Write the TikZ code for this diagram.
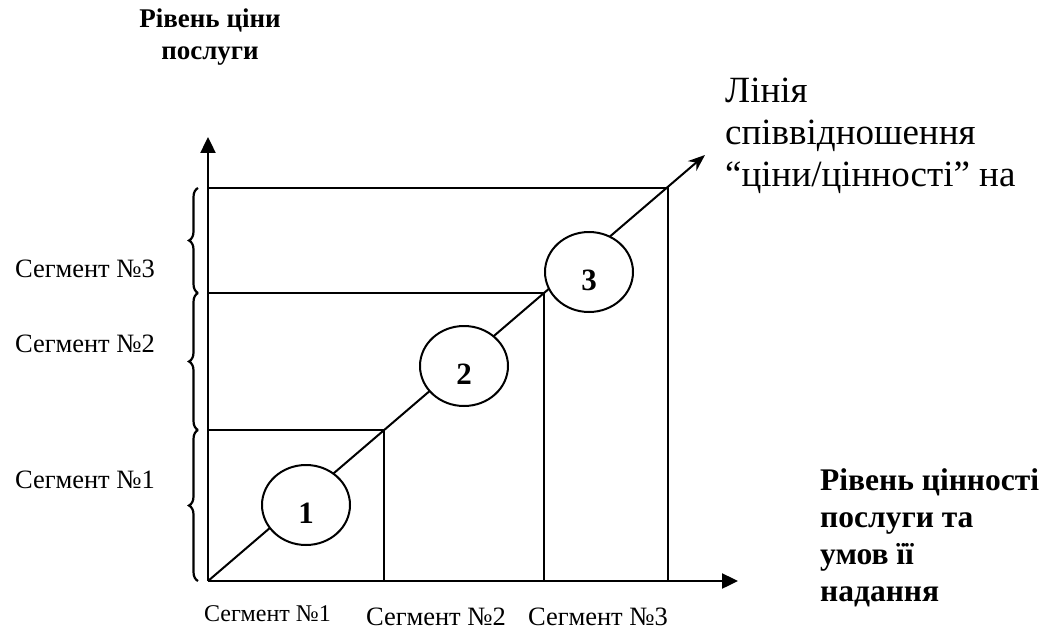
\documentclass[tikz,border=0pt]{standalone}
\usepackage{fontspec}
\setmainfont{Liberation Serif}
\usetikzlibrary{arrows.meta,shapes.geometric,decorations.pathreplacing}
\begin{document}
\begin{tikzpicture}[x=1pt,y=-1pt,
  axis/.style={line width=2.4pt,-{Triangle[length=16pt,width=15pt]}},
  gridline/.style={line width=2pt},
  bracestyle/.style={line width=2.2pt,decorate,decoration={brace,amplitude=9pt}},
  seg/.style={ellipse,draw,line width=2pt,fill=white,minimum width=88pt,minimum height=80pt,inner sep=0pt},
  num/.style={font=\fontsize{31}{36}\selectfont\bfseries,inner sep=0pt},
  lbl/.style={font=\fontsize{26.5}{31}\selectfont,inner sep=0pt,anchor=base west},
  blbl/.style={font=\fontsize{24}{28}\selectfont,inner sep=0pt,anchor=base west},
]
\useasboundingbox (0,0) rectangle (1056,631);
\coordinate (O) at (208,581);
\coordinate (Ytip) at (208,137);
\coordinate (Xtip) at (738,581);
\coordinate (Dtip) at (705,155);
\coordinate (h1) at (208,430);
\coordinate (h2) at (208,293);
\coordinate (h3) at (208,188);
\coordinate (c1) at (384,430);
\coordinate (c2) at (544,293);
\coordinate (c3) at (668,188);
\coordinate (b1) at (384,581);
\coordinate (b2) at (544,581);
\coordinate (b3) at (668,581);
% grid
\draw[gridline] (h1) -- (c1) -- (b1);
\draw[gridline] (h2) -- (c2) -- (b2);
\draw[gridline] (h3) -- (c3) -- (b3);
% axes
\draw[axis] (O) -- (Ytip);
\draw[axis] (O) -- (Xtip);
\draw[line width=2pt,-{Stealth[length=17pt,width=13pt]}] (O) -- (Dtip);
% braces
\coordinate (br0) at (198,581);
\coordinate (br1) at (198,430);
\coordinate (br2) at (198,293);
\coordinate (br3) at (198,188);
\draw[bracestyle] (br0) -- (br1);
\draw[bracestyle] (br1) -- (br2);
\draw[bracestyle] (br2) -- (br3);
% ellipses
\node[seg] (e1) at (306,505) {};
\node[seg] (e2) at (464,366) {};
\node[seg] (e3) at (589,272) {};
\node[num] (n1) at ([yshift=-8pt]e1.center) {1};
\node[num] (n2) at ([yshift=-8pt]e2.center) {2};
\node[num] (n3) at ([yshift=-8pt]e3.center) {3};
% left labels
\node[lbl] (l3) at (15,277) {Сегмент №3};
\node[lbl] (l2) at (15,352) {Сегмент №2};
\node[lbl] (l1) at (15,488) {Сегмент №1};
% bottom labels
\node[blbl] (s1) at (204,621) {Сегмент №1};
\node[lbl] (s2) at (366,625) {Сегмент №2};
\node[lbl] (s3) at (528,625) {Сегмент №3};
% titles
\node[font=\fontsize{27}{32}\selectfont\bfseries,align=center,inner sep=0pt,anchor=base] (ytitle) at (210,60) {Рівень ціни\\послуги};
\node[font=\fontsize{37}{42}\selectfont,align=left,inner sep=0pt,anchor=base west] (dtitle) at (725,186) {Лінія\\співвідношення\\“ціни/цінності” на};
\node[font=\fontsize{31.5}{37}\selectfont\bfseries,align=left,inner sep=0pt,anchor=base west] (xtitle) at (820,601) {Рівень цінності\\послуги та\\умов її\\надання};
\end{tikzpicture}
\end{document}
